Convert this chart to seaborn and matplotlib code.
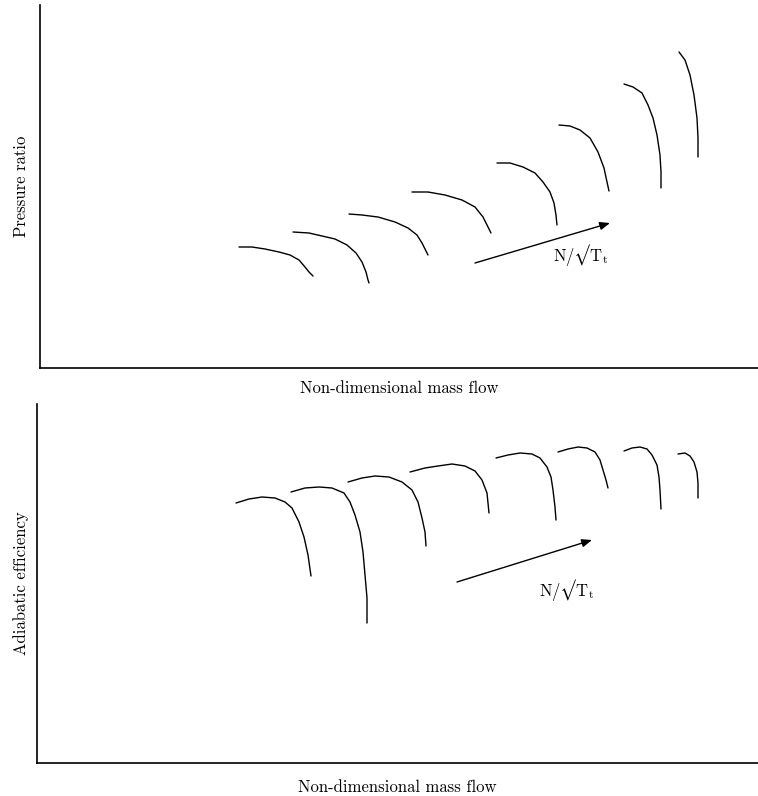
import matplotlib
matplotlib.use("Agg")
import matplotlib.pyplot as plt
import seaborn as sns
import pandas as pd

sns.set_theme(style="white")
plt.rcParams["font.family"] = ["cmr10", "DejaVu Serif"]
plt.rcParams["mathtext.fontset"] = "cm"
plt.rcParams["axes.formatter.use_mathtext"] = True
plt.rcParams["text.color"] = "black"
plt.rcParams["axes.labelcolor"] = "black"
plt.rcParams["lines.solid_joinstyle"] = "round"

# ---- Data (arbitrary units) ----
# Pressure ratio map: speed lines (mass flow, pressure ratio)
pr_flow = [
    [199, 212, 225, 239, 250, 259, 265, 269, 273],
    [253, 269, 282, 295, 307, 316, 322, 326, 328, 329],
    [309, 322, 338, 355, 368, 377, 382, 388],
    [372, 388, 405, 422, 435, 443, 448, 451],
    [457, 470, 483, 495, 503, 510, 514, 516, 517],
    [519, 530, 540, 550, 558, 564, 567, 569],
    [584, 593, 602, 608, 613, 617, 620, 621, 621],
    [639, 645, 650, 654, 657, 658, 658],
]
pr_value = [
    [121, 121, 119, 116, 113, 108, 101, 96, 92],
    [136, 135, 132, 129, 123, 115, 106, 96, 88, 85],
    [154, 153, 151, 146, 140, 133, 125, 113],
    [176, 176, 173, 168, 161, 151, 141, 135],
    [205, 205, 201, 195, 186, 176, 165, 153, 143],
    [243, 242, 238, 230, 216, 200, 186, 177],
    [284, 281, 275, 263, 250, 233, 213, 196, 180],
    [316, 308, 293, 273, 250, 230, 211],
]

# Efficiency map: speed lines (mass flow, adiabatic efficiency)
eff_flow = [
    [199, 212, 225, 238, 248, 255, 262, 267, 271, 274],
    [254, 268, 282, 295, 307, 313, 318, 323, 326, 328, 330, 330],
    [311, 325, 338, 352, 365, 375, 381, 385, 388, 389],
    [373, 388, 401, 415, 428, 438, 445, 450, 452],
    [459, 471, 483, 495, 503, 510, 514, 516, 518, 519],
    [521, 531, 541, 550, 558, 563, 566, 569, 571],
    [587, 595, 603, 610, 615, 620, 622, 623, 624],
    [641, 648, 653, 657, 660, 661, 661],
]
eff_value = [
    [260, 264, 266, 265, 261, 255, 241, 226, 208, 187],
    [271, 275, 276, 275, 270, 261, 248, 231, 211, 188, 165, 140],
    [281, 285, 287, 286, 281, 273, 261, 245, 231, 217],
    [291, 295, 297, 299, 297, 292, 283, 270, 250],
    [305, 308, 310, 309, 305, 296, 286, 273, 256, 243],
    [311, 314, 316, 315, 311, 303, 293, 283, 275],
    [312, 315, 316, 314, 308, 298, 286, 273, 254],
    [309, 310, 307, 301, 291, 280, 265],
]

# Speed-direction arrows: (tail, head) and label position
pr_arrow = [(435, 105), (570, 145)]
pr_label = (541, 113)
eff_arrow = [(420, 181), (555, 223)]
eff_label = (530, 173)
speed_label = "$\\mathrm{N}/\u221a\\mathrm{T}_\\mathrm{t}$"


def to_frame(flows, values):
    rows = []
    for i, (xs, ys) in enumerate(zip(flows, values)):
        for j, (x, y) in enumerate(zip(xs, ys)):
            rows.append({"speed": i, "order": j, "flow": x, "value": y})
    return pd.DataFrame(rows)


fig = plt.figure(figsize=(7.58, 7.96), dpi=100)
ax1 = fig.add_axes([40 / 758, 1 - 368 / 796, 718 / 758, 363 / 796])
ax2 = fig.add_axes([37 / 758, 1 - 763 / 796, 721 / 758, 359 / 796])

panels = [
    (ax1, pr_flow, pr_value, pr_arrow, pr_label, "Pressure ratio", 718, 363, 9, 8),
    (ax2, eff_flow, eff_value, eff_arrow, eff_label, "Adiabatic efficiency", 721, 359, 12, 6),
]

for ax, fl, vl, arr, lab, ylab, xmax, ymax, xpad, ypad in panels:
    df = to_frame(fl, vl)
    sns.lineplot(data=df, x="flow", y="value", units="speed", estimator=None,
                 sort=False, color="black", linewidth=1.0, ax=ax, legend=False)
    ax.annotate("", xy=arr[1], xytext=arr[0],
                arrowprops=dict(arrowstyle="-|>,head_length=0.5,head_width=0.2",
                                color="black", lw=1.0, shrinkA=0, shrinkB=0))
    ax.text(lab[0], lab[1], speed_label, ha="center", va="center", fontsize=12,
            color="black")
    ax.set_xlim(0, xmax)
    ax.set_ylim(0, ymax)
    ax.set_xticks([])
    ax.set_yticks([])
    for side in ["top", "right"]:
        ax.spines[side].set_visible(False)
    for side in ["left", "bottom"]:
        ax.spines[side].set_color("black")
        ax.spines[side].set_linewidth(1.2)
    ax.set_xlabel("Non-dimensional mass flow", fontsize=12, labelpad=xpad)
    ax.set_ylabel(ylab, fontsize=12, labelpad=ypad)
    ax.set_facecolor("white")

fig.savefig("out.png", dpi=100, facecolor="white")
